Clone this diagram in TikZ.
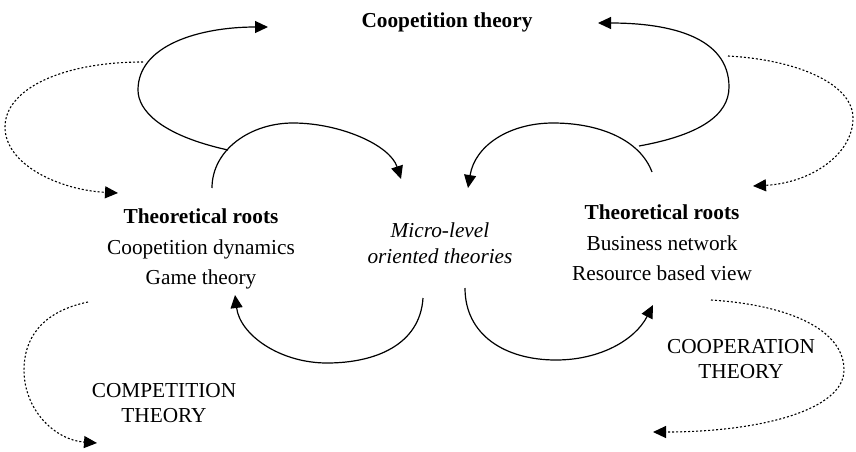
\documentclass[tikz,border=0pt]{standalone}
\usepackage{fontspec}
\setmainfont{Liberation Serif}
\usetikzlibrary{arrows.meta}

\tikzset{
  solidarc/.style={line width=1.2pt,-{Triangle[length=13pt,width=12pt]}},
  dotarc/.style={line width=1.1pt,dash pattern=on 2pt off 2pt,
    -{Triangle[length=13pt,width=12pt]}},
  roots/.style={align=center,font=\fontsize{21.3}{30.5}\selectfont},
  txt/.style={align=center,font=\fontsize{21.3}{25.5}\selectfont}
}

\begin{document}
\begin{tikzpicture}[x=1pt,y=-1pt]
  \useasboundingbox (0,0) rectangle (856,451);

  % ---- Texts -----------------------------------------------
  \node[txt,font=\fontsize{21.3}{25.5}\selectfont\bfseries] (coop) at (447,22)
    {Coopetition theory};
  \node[roots] (rootsl) at (201,249)
    {\textbf{Theoretical roots}\\Coopetition dynamics\\Game theory};
  \node[roots] (rootsr) at (662,243)
    {\textbf{Theoretical roots}\\Business network\\Resource based view};
  \node[txt,font=\fontsize{21.3}{25.5}\selectfont\itshape] (micro) at (440,243)
    {Micro-level\\oriented theories};
  \node[txt] (compet) at (164,403) {COMPETITION\\THEORY};
  \node[txt] (cooper) at (741,359) {COOPERATION\\THEORY};

  % ---- Arc end points --------------------------------------
  \coordinate (tl-a) at (228,150);  \coordinate (tl-b) at (268,27);
  \coordinate (tr-a) at (639,146);  \coordinate (tr-b) at (598,23);
  \coordinate (ml-a) at (212,188);  \coordinate (ml-b) at (401,179);
  \coordinate (mr-a) at (652,172);  \coordinate (mr-b) at (468,188);
  \coordinate (bl-a) at (423,298);  \coordinate (bl-b) at (235,295);
  \coordinate (br-a) at (465,288);  \coordinate (br-b) at (653,305);
  \coordinate (dtl-a) at (143,62);  \coordinate (dtl-b) at (118,193);
  \coordinate (dtr-a) at (728,56);  \coordinate (dtr-b) at (753,186);
  \coordinate (dbl-a) at (88,302);  \coordinate (dbl-b) at (97,443);
  \coordinate (dbr-a) at (711,300); \coordinate (dbr-b) at (653,432);

  % ---- Solid loops -----------------------------------------
  \draw[solidarc] (tl-a) .. controls (160,135) and (138,110) .. (138,90)
    .. controls (138,45) and (200,27) .. (tl-b);
  \draw[solidarc] (tr-a) .. controls (700,135) and (729,115) .. (729,87)
    .. controls (729,37) and (670,23) .. (tr-b);
  \draw[solidarc] (ml-a) .. controls (212,150) and (250,123) .. (293,123)
    .. controls (340,123) and (390,145) .. (ml-b);
  \draw[solidarc] (mr-a) .. controls (640,140) and (600,123) .. (553,123)
    .. controls (510,123) and (475,145) .. (mr-b);
  \draw[solidarc] (bl-a) .. controls (420,345) and (375,363) .. (327,363)
    .. controls (280,363) and (240,335) .. (bl-b);
  \draw[solidarc] (br-a) .. controls (465,335) and (505,360) .. (556,360)
    .. controls (600,360) and (635,340) .. (br-b);

  % ---- Dotted loops ----------------------------------------
  \draw[dotarc] (dtl-a) .. controls (60,62) and (5,90) .. (5,127)
    .. controls (5,165) and (60,190) .. (dtl-b);
  \draw[dotarc] (dtr-a) .. controls (800,60) and (853,85) .. (853,118)
    .. controls (853,155) and (810,183) .. (dtr-b);
  \draw[dotarc] (dbl-a) .. controls (40,312) and (24,340) .. (24,370)
    .. controls (24,410) and (55,440) .. (dbl-b);
  \draw[dotarc] (dbr-a) .. controls (790,305) and (844,330) .. (844,370)
    .. controls (844,410) and (760,432) .. (dbr-b);
\end{tikzpicture}
\end{document}
